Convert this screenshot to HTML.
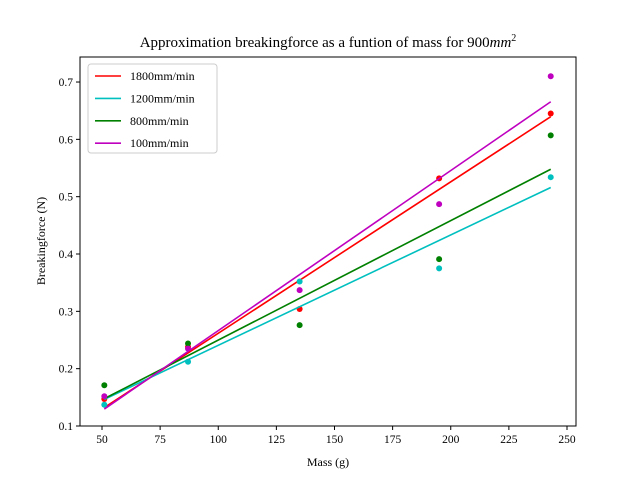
<!DOCTYPE html>
<html><head><meta charset="utf-8"><style>
html,body{margin:0;padding:0;background:#fff;}
svg{display:block;font-family:"Liberation Serif",serif;}
</style></head><body>
<svg id="chart" width="640" height="478" viewBox="0 0 640 478" xmlns="http://www.w3.org/2000/svg"></svg>
<script>
const mass=[51,87,135,195,243];
const seriesNames=["1800mm/min","1200mm/min","800mm/min","100mm/min"];
const seriesColors=["#ff0000","#00bfbf","#008000","#bf00bf"];
const red=[0.147,0.238,0.304,0.532,0.645];
const cyan=[0.137,0.212,0.352,0.375,0.534];
const green=[0.171,0.244,0.276,0.391,0.607];
const magenta=[0.152,0.235,0.337,0.487,0.710];
const xTicks=[50,75,100,125,150,175,200,225,250];
const yTicks=[0.1,0.2,0.3,0.4,0.5,0.6,0.7];
const series=[red,cyan,green,magenta];

const NS="http://www.w3.org/2000/svg";
const svg=document.getElementById('chart');
const L=80,R=576,T=57,B=426;
const sx=v=>102+(v-50)*2.325;
const sy=v=>426-(v-0.1)*573.3;
function mk(tag,attrs,parent){const e=document.createElementNS(NS,tag);for(const k in attrs)e.setAttribute(k,attrs[k]);(parent||svg).appendChild(e);return e;}

const clip=mk('clipPath',{id:'cp'});mk('rect',{x:L,y:T,width:R-L,height:B-T},clip);
const plot=mk('g',{'clip-path':'url(#cp)'});



series.forEach((ys,i)=>{
  const n=mass.length;let mx=0,my=0;mass.forEach((x,j)=>{mx+=x;my+=ys[j];});mx/=n;my/=n;
  let num=0,den=0;mass.forEach((x,j)=>{num+=(x-mx)*(ys[j]-my);den+=(x-mx)*(x-mx);});
  const b=num/den,a=my-b*mx;
  const x0=Math.min(...mass),x1=Math.max(...mass);
  const g=mk('g',{},plot);
  
  
  mass.forEach((x,j)=>{
    const c=mk('circle',{cx:sx(x),cy:sy(ys[j]),r:3,fill:seriesColors[i]},g);
    
    
  });
  const ln=mk('line',{x1:sx(x0),y1:sy(a+b*x0),x2:sx(x1),y2:sy(a+b*x1),stroke:seriesColors[i],'stroke-width':1.6},g);
  
  
});

const frame=mk('rect',{x:L,y:T,width:R-L,height:B-T,fill:'none',stroke:'#000','stroke-width':1});



xTicks.forEach(t=>{
  mk('line',{x1:sx(t),y1:B,x2:sx(t),y2:B+4,stroke:'#000'});
  const tx=mk('text',{x:sx(t),y:B+17,'text-anchor':'middle','font-size':11.5});
  tx.textContent=t;
  
  
});
yTicks.forEach(t=>{
  mk('line',{x1:L-4,y1:sy(t),x2:L,y2:sy(t),stroke:'#000'});
  const tx=mk('text',{x:L-7,y:sy(t)+4,'text-anchor':'end','font-size':11.5});
  tx.textContent=t.toFixed(1);
  
  
});

const title=mk('text',{x:328,y:47,'text-anchor':'middle','font-size':15});
title.innerHTML='Approximation breakingforce as a funtion of mass for 900<tspan font-style="italic">mm</tspan><tspan dy="-6" font-size="10">2</tspan>';


const xl=mk('text',{x:328,y:466,'text-anchor':'middle','font-size':12});
xl.textContent='Mass (g)';


const yl=mk('text',{x:45,y:241,'text-anchor':'middle','font-size':12,transform:'rotate(-90 45 241)'});
yl.textContent='Breakingforce (N)';



const leg=mk('g',{});


mk('rect',{x:88,y:64,width:129,height:89,rx:3,fill:'#fff',stroke:'#ccc'},leg);
seriesNames.forEach((nm,i)=>{
  const y=76+i*22.4;
  const e=mk('g',{},leg);
  
  
  mk('line',{x1:95,y1:y,x2:121,y2:y,stroke:seriesColors[i],'stroke-width':1.6},e);
  const t=mk('text',{x:130,y:y+4,'font-size':12},e);
  t.textContent=nm;
});
</script>
</body></html>
